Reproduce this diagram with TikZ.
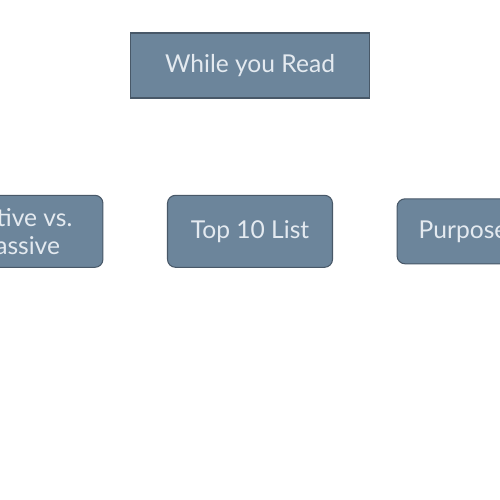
\documentclass[tikz,border=0pt]{standalone}
\usepackage{fontspec}
\setmainfont{Lato}
\usetikzlibrary{positioning}
\definecolor{slate}{RGB}{108,133,155}
\definecolor{slateline}{RGB}{72,88,104}
\definecolor{paletext}{RGB}{228,234,240}

\begin{document}
\begin{tikzpicture}[
  node distance=1.92cm and 1.27cm,
  topic/.style={draw=slateline, line width=0.9pt, fill=slate, text=paletext, align=center, minimum width=4.78cm, minimum height=1.3cm, font=\fontsize{14}{16}\selectfont},
  item/.style={draw=slateline, line width=0.6pt, fill=slate, text=paletext, rounded corners=0.16cm, align=center, minimum width=3.3cm, minimum height=1.44cm, font=\fontsize{14}{16}\selectfont}
]
  \useasboundingbox (0,0) rectangle (10,10);
  \clip (0,0) rectangle (10,10);
  \node[topic] (read) at (5,8.69) {While you Read};
  \node[item, below=of read] (list) {Top 10 List};
  \node[item, left=of list] (active) {Active vs.\\ Passive};
  \node[item, right=of list, minimum width=2.64cm, minimum height=1.3cm] (purpose) {Purpose};
\end{tikzpicture}
\end{document}
